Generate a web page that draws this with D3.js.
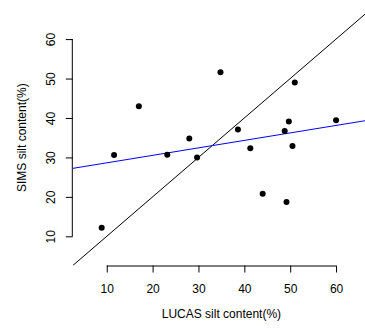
<!DOCTYPE html>
<html>
<head>
<meta charset="utf-8">
<script src="https://cdn.jsdelivr.net/npm/d3@7"></script>
<style>
html, body { margin: 0; padding: 0; background: #fff; }
svg { display: block; font-family: "Liberation Sans", Arial, sans-serif; }
</style>
</head>
<body>
<div id="chart"></div>
<script>
// LUCAS (x) vs SIMS (y) silt content, %
const lucas = [11.6, 17.0, 23.2, 8.9, 44.0, 49.2, 28.0, 29.7, 34.8, 38.6, 41.3, 48.8, 49.7, 51.0, 50.5, 60.0];
const sims  = [30.6, 43.0, 30.7, 12.2, 20.8, 18.7, 34.8, 30.0, 51.6, 37.1, 32.3, 36.7, 39.1, 49.0, 32.9, 39.4];
const xTicks = [10, 20, 30, 40, 50, 60];
const yTicks = [10, 20, 30, 40, 50, 60];
const xLimits = [5, 65];
const yLimits = [5, 65];
const xLabel = "LUCAS silt content(%)";
const yLabel = "SIMS silt content(%)";

const W = 365, H = 329;
const plot = { left: 72.8, right: 370, top: 9.9, bottom: 265.5 };

// R-style 4% axis extension
const ext = l => [l[0] - 0.04 * (l[1] - l[0]), l[1] + 0.04 * (l[1] - l[0])];
const x = d3.scaleLinear().domain(ext(xLimits)).range([plot.left, plot.right]);
const y = d3.scaleLinear().domain(ext(yLimits)).range([plot.bottom, plot.top]);

const svg = d3.select("#chart").append("svg").attr("width", W).attr("height", H);

svg.append("defs").append("clipPath").attr("id", "clip")
  .append("rect").attr("x", plot.left).attr("y", plot.top)
  .attr("width", plot.right - plot.left).attr("height", plot.bottom - plot.top);

// least squares fit
const n = lucas.length;
const mx = d3.mean(lucas), my = d3.mean(sims);
let sxy = 0, sxx = 0;
for (let i = 0; i < n; i++) { sxy += (lucas[i] - mx) * (sims[i] - my); sxx += (lucas[i] - mx) ** 2; }
const slope = sxy / sxx, intercept = my - slope * mx;

const xd = x.domain();
const g = svg.append("g").attr("clip-path", "url(#clip)");
// 1:1 line
g.append("line")
  .attr("x1", x(xd[0])).attr("y1", y(xd[0]))
  .attr("x2", x(xd[1])).attr("y2", y(xd[1]))
  .attr("stroke", "#000").attr("stroke-width", 1);
// fitted line
g.append("line")
  .attr("x1", x(xd[0])).attr("y1", y(intercept + slope * xd[0]))
  .attr("x2", x(xd[1])).attr("y2", y(intercept + slope * xd[1]))
  .attr("stroke", "#0000ff").attr("stroke-width", 1);

// points
svg.append("g").selectAll("circle").data(lucas.map((v, i) => [v, sims[i]])).join("circle")
  .attr("cx", d => x(d[0])).attr("cy", d => y(d[1])).attr("r", 3).attr("fill", "#000");

// axes (R style: line from first to last tick)
const xAxis = d3.axisBottom(x).tickValues(xTicks).tickSize(7).tickPadding(10).tickSizeOuter(0);
const xg = svg.append("g").attr("transform", `translate(0,${plot.bottom})`).call(xAxis);
xg.select(".domain").remove();
xg.append("line").attr("x1", x(xTicks[0])).attr("x2", x(xTicks[xTicks.length - 1]))
  .attr("y1", 0.5).attr("y2", 0.5).attr("stroke", "#000");
xg.selectAll(".tick line").attr("stroke", "#000");
xg.selectAll(".tick text").attr("fill", "#000").style("font-size", "12px")
  .attr("font-family", "Liberation Sans, Arial, sans-serif")
  .attr("dy", null).attr("y", 27.5).attr("dominant-baseline", "alphabetic");

const yAxis = d3.axisLeft(y).tickValues(yTicks).tickSize(7).tickSizeOuter(0);
const yg = svg.append("g").attr("transform", `translate(${plot.left},0)`).call(yAxis);
yg.select(".domain").remove();
yg.append("line").attr("y1", y(yTicks[0])).attr("y2", y(yTicks[yTicks.length - 1]))
  .attr("x1", -0.5).attr("x2", -0.5).attr("stroke", "#000");
yg.selectAll(".tick line").attr("stroke", "#000");
yg.selectAll(".tick text").attr("fill", "#000").style("font-size", "12px")
  .attr("font-family", "Liberation Sans, Arial, sans-serif")
  .attr("x", null).attr("dy", null).attr("text-anchor", "middle")
  .attr("transform", "translate(-17.5,0) rotate(-90)");

// axis titles
svg.append("text").attr("x", (plot.left + plot.right) / 2).attr("y", 318)
  .attr("text-anchor", "middle").style("font-size", "12px").attr("fill", "#000").text(xLabel);
svg.append("text").attr("transform", `translate(26,${(plot.top + plot.bottom) / 2}) rotate(-90)`)
  .attr("text-anchor", "middle").style("font-size", "12px").attr("fill", "#000").text(yLabel);
</script>
</body>
</html>
